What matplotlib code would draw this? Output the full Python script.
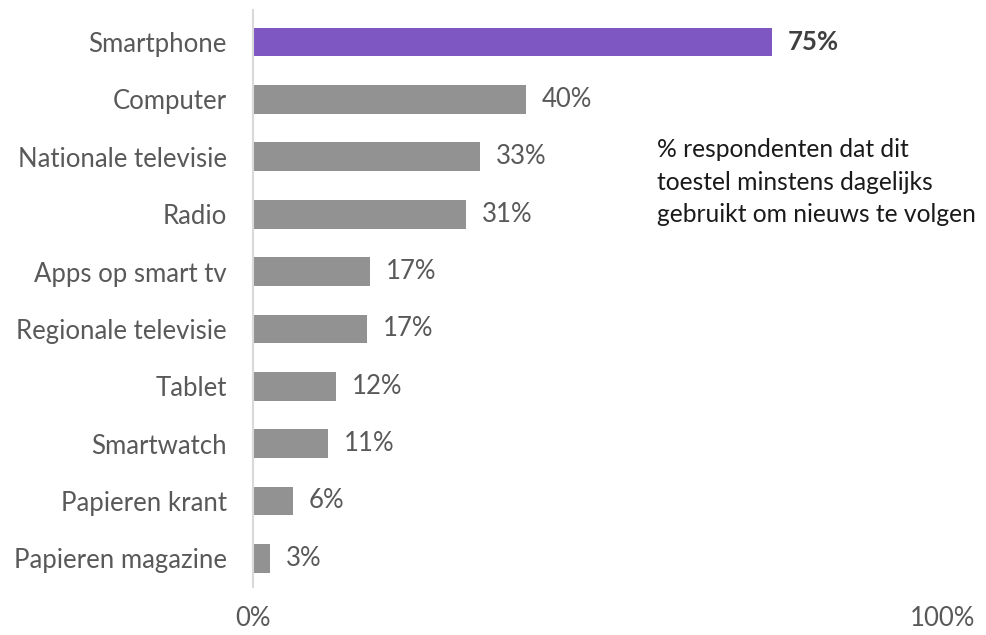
import matplotlib.pyplot as plt

categories = ["Smartphone", "Computer", "Nationale televisie", "Radio",
              "Apps op smart tv", "Regionale televisie", "Tablet",
              "Smartwatch", "Papieren krant", "Papieren magazine"]
values = [75.2, 39.6, 32.9, 30.9, 17.0, 16.5, 12.0, 10.9, 5.8, 2.5]
labels = ["75%", "40%", "33%", "31%", "17%", "17%", "12%", "11%", "6%", "3%"]
highlight = "Smartphone"
note = "% respondenten dat dit\ntoestel minstens dagelijks\ngebruikt om nieuws te volgen"

plt.rcParams['font.family'] = ['Lato', 'DejaVu Sans']

W, H = 987, 635
fig = plt.figure(figsize=(W / 100, H / 100), dpi=100)
ax = fig.add_axes([253 / W, 1 - 587 / H, (943 - 253) / W, 577 / H])

colors = ["#7e57c2" if c == highlight else "#929292" for c in categories]
ypos = range(len(categories))
ax.barh(ypos, values, height=0.5, color=colors)
ax.set_xlim(0, 100)
ax.set_ylim(9.5, -0.56)

ax.set_yticks(list(ypos))
ax.set_yticklabels(categories, fontsize=18.5, color="#595959")
ax.tick_params(axis="y", length=0, pad=19)
ax.set_xticks([0, 100])
ax.set_xticklabels(["0%", "100%"], fontsize=18.5, color="#595959")
ax.tick_params(axis="x", length=0, pad=14)

for s in ["top", "right", "bottom"]:
    ax.spines[s].set_visible(False)
ax.spines["left"].set_color("#d9d9d9")
ax.spines["left"].set_linewidth(1.5)

for i, (v, lab, c) in enumerate(zip(values, labels, categories)):
    bold = c == highlight
    ax.text(v + 2.3, i, lab, va="center", ha="left", fontsize=18.5,
            color="#404040" if bold else "#595959",
            fontweight="bold" if bold else "normal")

ax.text(58.5, 2.44, note, va="center", ha="left", fontsize=17.7,
        color="#1a1a1a", linespacing=1.5)

fig.savefig("out.png", dpi=100)
